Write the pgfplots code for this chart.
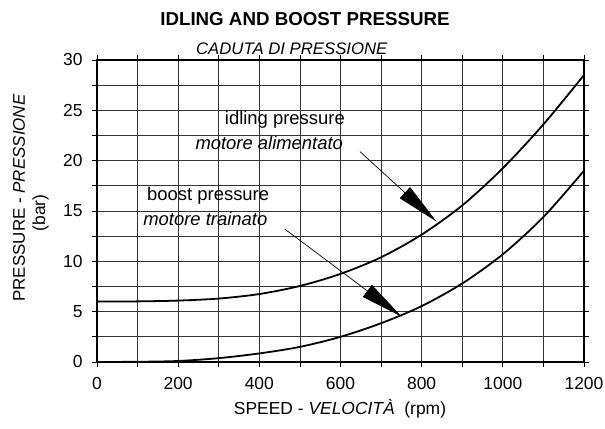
\documentclass[border=0pt]{standalone}
\usepackage{fontspec}
\setmainfont{Liberation Sans}
\usepackage{pgfplots}
\pgfplotsset{compat=1.18}
\usetikzlibrary{arrows.meta}

\pgfplotstableread{
x y
0 6.0
100 6.02
200 6.1
300 6.3
400 6.75
500 7.55
600 8.75
700 10.4
800 12.65
900 15.55
1000 19.25
1100 23.6
1200 28.5
}\idling

\pgfplotstableread{
x y
0 0.0
100 0.02
200 0.1
300 0.38
400 0.85
500 1.5
600 2.5
700 3.85
800 5.55
900 7.8
1000 10.7
1100 14.4
1200 19.0
}\boost

\begin{document}
\begin{tikzpicture}
\begin{axis}[
  scale only axis, width=487bp, height=302bp,
  xmin=0, xmax=1200, ymin=0, ymax=30,
  xtick={0,200,...,1200}, minor xtick={100,300,...,1100},
  ytick={0,5,...,30}, minor ytick={2.5,7.5,...,27.5},
  grid=both,
  major grid style={black!80, line width=0.8bp},
  minor grid style={black!80, line width=0.8bp},
  axis line style={line width=1.6bp},
  tick align=outside, major tick length=5bp, minor tick length=5bp,
  tick style={black, line width=0.8bp},
  ticklabel style={font=\fontsize{17.5}{20}\selectfont},
  xticklabel style={yshift=-7bp},
  yticklabel style={xshift=-6bp},
  /pgf/number format/assume math mode=true,
  /pgf/number format/1000 sep={},
  clip=false,
]
\addplot[black, line width=1.8bp, smooth] table[x=x,y=y] {\idling};
\addplot[black, line width=1.8bp, smooth] table[x=x,y=y] {\boost};

\draw[line width=0.7bp, -{Triangle[length=43bp,width=15bp]}] (axis cs:648,20.9) -- (axis cs:837,13.94);
\draw[line width=0.7bp, -{Triangle[length=43bp,width=15bp]}] (axis cs:463,13.2) -- (axis cs:751,4.5);

\node[anchor=base, font=\fontsize{18.5}{21}\selectfont, inner sep=0pt] at (axis cs:463,23.64) {idling pressure};
\node[anchor=base, font=\itshape\fontsize{18.5}{21}\selectfont, inner sep=0pt] at (axis cs:424.5,21.06) {motore alimentato};
\node[anchor=base, font=\fontsize{18.5}{21}\selectfont, inner sep=0pt] at (axis cs:274,16.09) {boost pressure};
\node[anchor=base, font=\itshape\fontsize{18.5}{21}\selectfont, inner sep=0pt] at (axis cs:267,13.6) {motore trainato};

\node[anchor=base, font=\bfseries\fontsize{18.8}{22}\selectfont, inner sep=0pt] at (axis cs:512.5,33.47) {IDLING AND BOOST PRESSURE};
\node[anchor=base, font=\itshape\fontsize{16.8}{20}\selectfont, inner sep=0pt] at (axis cs:480,30.5) {CADUTA DI PRESSIONE};

\node[anchor=base, rotate=90, font=\fontsize{17}{20}\selectfont, inner sep=0pt] at (axis cs:-177.4,16.29) {PRESSURE - \textit{PRESSIONE}};
\node[anchor=base, rotate=90, font=\fontsize{17.5}{20}\selectfont, inner sep=0pt] at (axis cs:-128,14.8) {(bar)};
\node[anchor=base, font=\fontsize{17.5}{20}\selectfont, inner sep=0pt] at (axis cs:598.8,-5.26) {SPEED - \textit{VELOCITÀ}\ \ (rpm)};

\coordinate (BL) at (axis cs:-239,-6.655);
\coordinate (TR) at (axis cs:1251.8,35.96);
\end{axis}
\pgfresetboundingbox
\path (BL) rectangle (TR);
\end{tikzpicture}
\end{document}
